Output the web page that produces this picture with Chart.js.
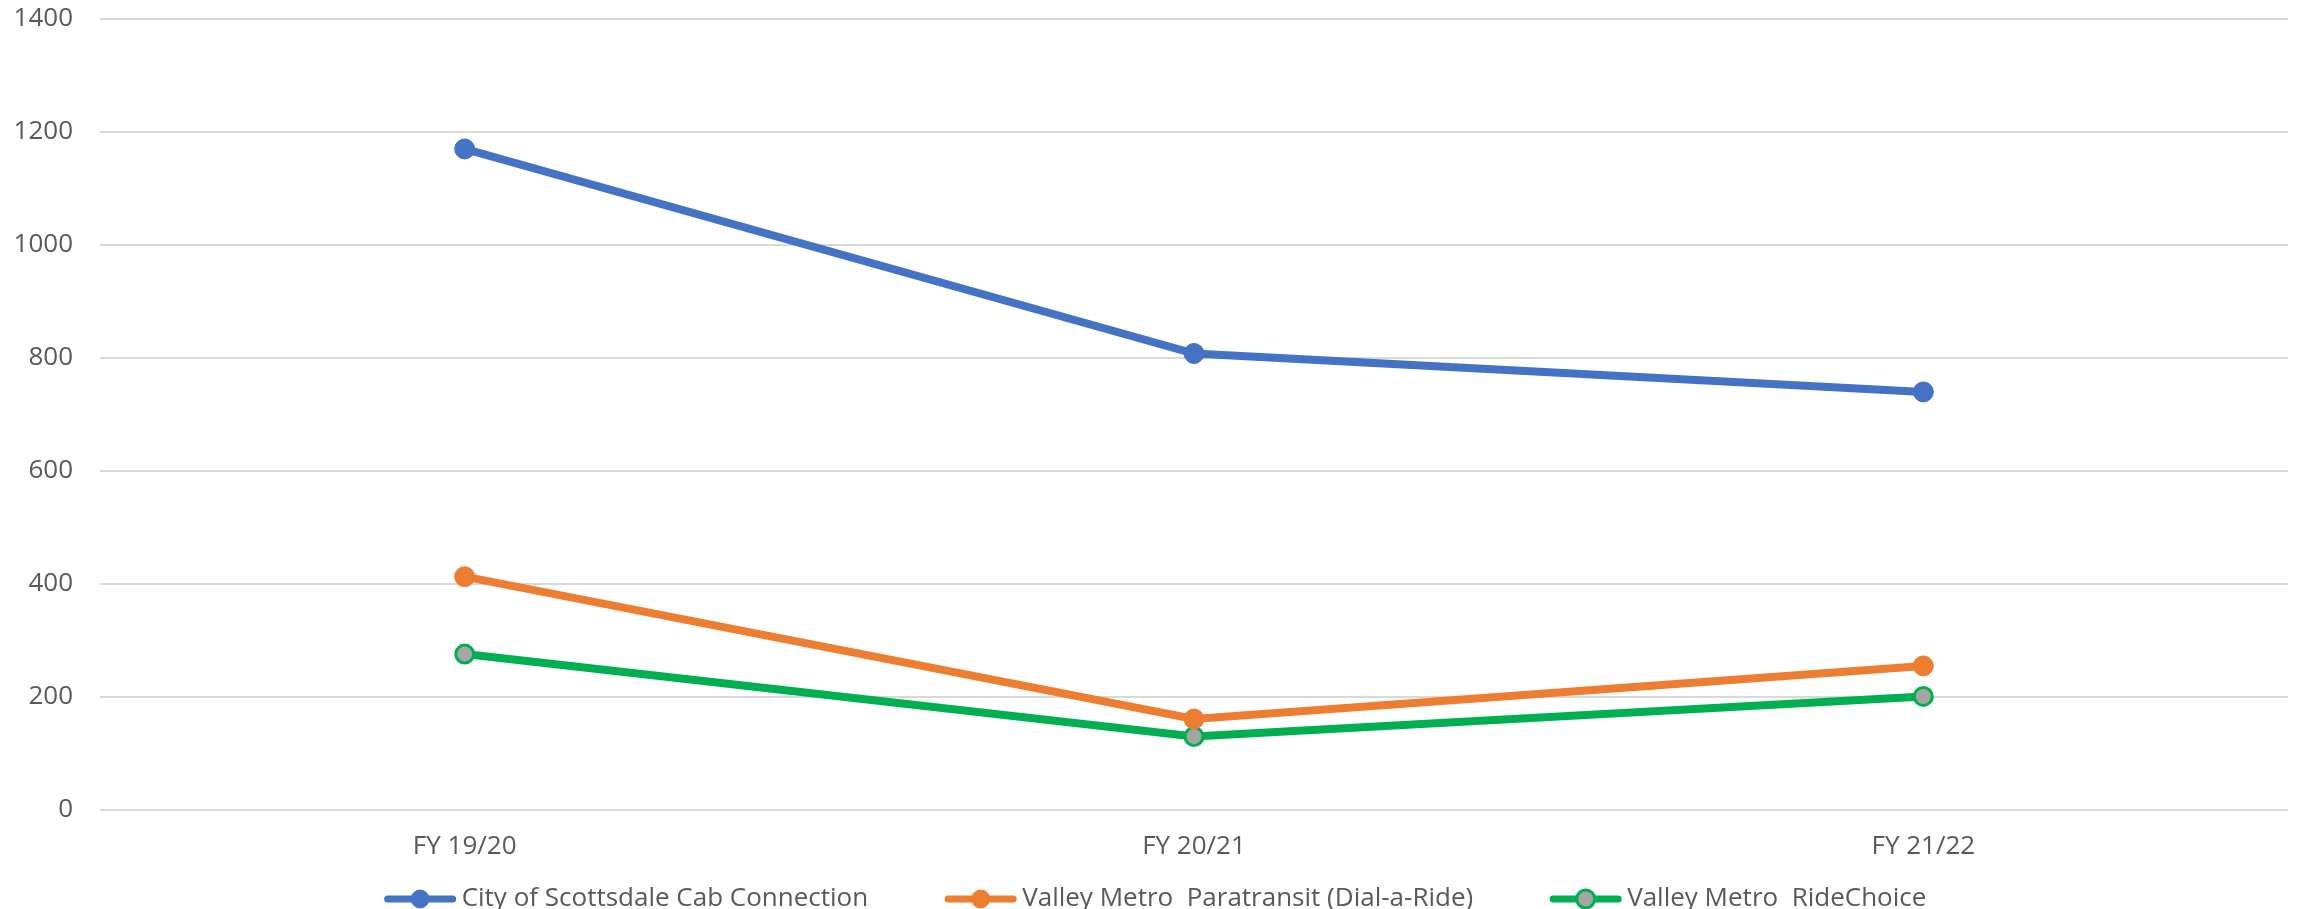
<!DOCTYPE html>
<html>
<head>
<meta charset="utf-8">
<script src="https://cdn.jsdelivr.net/npm/chart.js@4/dist/chart.umd.min.js"></script>
<style>
  html, body { margin: 0; padding: 0; background: #ffffff; }
  #wrap { width: 2303px; height: 909px; position: relative; }
</style>
</head>
<body>
<div id="wrap"><canvas id="c" width="2303" height="909"></canvas></div>
<script>
const categories = ['FY 19/20', 'FY 20/21', 'FY 21/22'];
const seriesNames = ['City of Scottsdale Cab Connection', 'Valley Metro  Paratransit (Dial-a-Ride)', 'Valley Metro  RideChoice'];
const cabConnection = [1170, 808, 740];
const paratransit = [413, 161, 255];
const rideChoice = [276, 130, 201];
const yTicks = [0, 200, 400, 600, 800, 1000, 1200, 1400];

const FONT = "'Open Sans', 'DejaVu Sans', sans-serif";
const TEXT_COLOR = '#595959';

const legendPlugin = {
  id: 'excelLegend',
  afterDraw(chart) {
    const ctx = chart.ctx;
    const ds = chart.data.datasets;
    const fontSize = 26;
    ctx.save();
    ctx.font = fontSize + 'px ' + FONT;
    const markerW = 71, gapText = 6, gapItem = 77;
    const widths = ds.map(d => markerW + gapText + ctx.measureText(d.label).width);
    const total = widths.reduce((a, b) => a + b, 0) + gapItem * (ds.length - 1);
    let x = chart.width / 2 - total / 2 + 4;
    const y = 899;
    ds.forEach((d, i) => {
      ctx.strokeStyle = d.borderColor;
      ctx.lineWidth = 7;
      ctx.lineCap = 'round';
      ctx.beginPath();
      ctx.moveTo(x + 3, y);
      ctx.lineTo(x + markerW - 3, y);
      ctx.stroke();
      ctx.beginPath();
      ctx.arc(x + markerW / 2, y, 9, 0, Math.PI * 2);
      ctx.fillStyle = d.pointBackgroundColor;
      ctx.fill();
      ctx.lineWidth = d.pointBorderWidth;
      ctx.strokeStyle = d.pointBorderColor;
      ctx.stroke();
      ctx.fillStyle = TEXT_COLOR;
      ctx.textAlign = 'left';
      ctx.textBaseline = 'middle';
      ctx.fillText(d.label, x + markerW + gapText, y);
      x += widths[i] + gapItem;
    });
    ctx.restore();
  }
};

new Chart(document.getElementById('c'), {
  type: 'line',
  data: {
    labels: categories,
    datasets: [
      {
        label: seriesNames[0], data: cabConnection,
        borderColor: '#4472C4', backgroundColor: '#4472C4',
        pointBackgroundColor: '#4472C4', pointBorderColor: '#4472C4', pointBorderWidth: 1,
        borderWidth: 8, pointRadius: 10, tension: 0
      },
      {
        label: seriesNames[1], data: paratransit,
        borderColor: '#ED7D31', backgroundColor: '#ED7D31',
        pointBackgroundColor: '#ED7D31', pointBorderColor: '#ED7D31', pointBorderWidth: 1,
        borderWidth: 8, pointRadius: 10, tension: 0
      },
      {
        label: seriesNames[2], data: rideChoice,
        borderColor: '#00B050', backgroundColor: '#00B050',
        pointBackgroundColor: '#A5A5A5', pointBorderColor: '#00B050', pointBorderWidth: 3,
        borderWidth: 8, pointRadius: 9, tension: 0
      }
    ]
  },
  options: {
    responsive: false,
    animation: false,
    devicePixelRatio: 1,
    layout: { padding: { left: 0, right: 15, top: 19, bottom: 49 } },
    plugins: {
      legend: { display: false },
      tooltip: { enabled: false },
      title: { display: false }
    },
    scales: {
      x: {
        type: 'category',
        offset: true,
        grid: { display: false, drawTicks: false },
        border: { display: false },
        ticks: { color: TEXT_COLOR, font: { family: FONT, size: 26 }, padding: 21 },
        afterFit(scale) { scale.height = 50; scale.paddingLeft = 0; scale.paddingRight = 0; }
      },
      y: {
        min: 0, max: 1400,
        afterBuildTicks(scale) { scale.ticks = yTicks.map(v => ({ value: v })); },
        grid: { color: '#D9D9D9', lineWidth: 2, drawTicks: false },
        border: { display: false },
        ticks: {
          color: TEXT_COLOR, font: { family: FONT, size: 26 }, padding: 27,
          callback: (v) => String(v)
        },
        afterFit(scale) { scale.width = 100; scale.paddingTop = 0; scale.paddingBottom = 0; }
      }
    }
  },
  plugins: [legendPlugin]
});
</script>
</body>
</html>
